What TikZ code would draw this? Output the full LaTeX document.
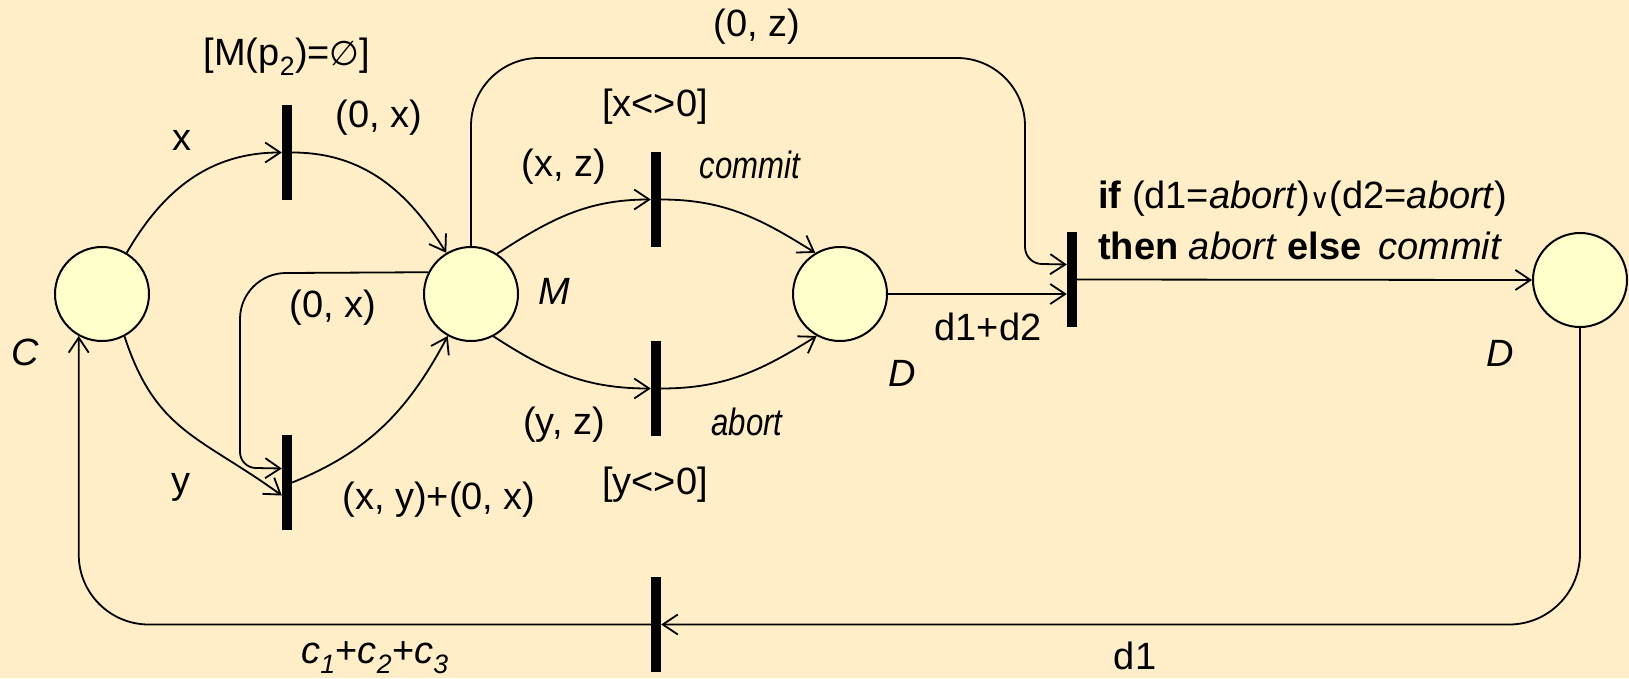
\documentclass[tikz,border=0pt]{standalone}
\usepackage{fontspec}
\setmainfont{Liberation Sans}
\newfontfamily\dejavu{DejaVu Sans}
\usepackage{graphicx}
\usetikzlibrary{arrows.meta}
\definecolor{bgc}{RGB}{255,238,200}
\definecolor{placefill}{RGB}{255,255,204}
\newcommand{\cit}[1]{\scalebox{0.82}[1]{\itshape #1}}
\newcommand{\myor}{{\dejavu\scalebox{0.72}{∨}}}
\newcommand{\myempty}{{\dejavu\scalebox{0.9}{∅}}}
\begin{document}
\begin{tikzpicture}[x=1pt,y=1pt,
  font=\fontsize{38}{44}\selectfont,
  place/.style={circle,draw,line width=2pt,fill=placefill,minimum size=94pt,inner sep=0pt},
  trans/.style={rectangle,fill=black,minimum width=10pt,minimum height=95pt,inner sep=0pt},
  lbl/.style={inner sep=0pt,anchor=center},
  conn/.style={line width=1.8pt},
  arr/.style={line width=1.8pt,-{Straight Barb[length=15pt,width=20pt,line width=1.8pt]}}]
\fill[bgc] (0,0) rectangle (1629,-678);
\useasboundingbox (0,0) rectangle (1629,-678);

% places
\node[place] (C) at (102,-294) {};
\node[place] (M) at (471,-294) {};
\node[place] (D1) at (840,-294) {};
\node[place] (D2) at (1580,-280) {};

% transitions
\node[trans] (t1) at (287,-152.5) {};
\node[trans] (t2) at (287,-482.5) {};
\node[trans] (t3) at (656,-199.5) {};
\node[trans] (t4) at (656,-388.5) {};
\node[trans] (t5) at (656,-624.5) {};
\node[trans] (t6) at (1072,-279.5) {};

% arcs
\draw[arr] (C.59) to[out=60,in=180] (t1.west);
\draw[arr] (t1.east) to[out=0,in=122] (M.121);
\draw[arr] (C.-62) to[out=-72,in=144,looseness=1.15] ([yshift=-13pt]t2.west);
\draw[arr] (t2.east) to[out=22,in=-118] (M.-119);
\draw[arr] (M.153) -- (286,-273) arc[start angle=90,end angle=180,radius=46]
  -- (240,-452) arc[start angle=180,end angle=270,radius=16] -- ([yshift=14pt]t2.west);
\draw[arr] (M.57) to[out=33,in=180] (t3.west);
\draw[arr] (t3.east) to[out=0,in=148] (D1.121);
\draw[arr] (M.-62) to[out=-33,in=180] (t4.west);
\draw[arr] (t4.east) to[out=0,in=-148] (D1.-119);
\draw[arr] (M.north) -- (471,-126) arc[start angle=180,end angle=90,radius=68]
  -- (957,-58) arc[start angle=90,end angle=0,radius=68]
  -- (1025,-247) arc[start angle=180,end angle=270,radius=17] -- ([yshift=15pt]t6.west);
\draw[arr] (D1.east) -- (t6.west |- D1.east);
\draw[arr] (t6.east) -- (D2.west);
\draw[arr,rounded corners=71pt] (D2.south) |- (t5.east);
\draw[arr,rounded corners=70pt] (t5.west) -| (C.241);

% labels
\node[lbl] (lguard1) at (287,-57) {[M(p\textsubscript{2})=\myempty]};
\node[lbl] (lx) at (182,-140) {x};
\node[lbl] (l0x) at (379,-118) {(0, x)};
\node[lbl] (l0xb) at (333,-308) {(0, x)};
\node[lbl] (ly) at (181,-487) {y};
\node[lbl] (lxy) at (439,-500) {(x, y)+(0, x)};
\node[lbl] (lC) at (25,-352) {\itshape C};
\node[lbl] (lM) at (554,-291) {\itshape M};
\node[lbl] (l0z) at (757,-27) {(0, z)};
\node[lbl] (lg2) at (655,-107) {[x<>0]};
\node[lbl] (lxz) at (564,-167) {(x, z)};
\node[lbl] (lcommit) at (750,-165) {\cit{commit}};
\node[lbl] (lyz) at (564,-425) {(y, z)};
\node[lbl] (labort) at (747,-422) {\cit{abort}};
\node[lbl] (lg3) at (655,-485) {[y<>0]};
\node[lbl] (lD1) at (902,-373) {\itshape D};
\node[lbl] (ld12) at (988,-327) {d1+d2};
\node[lbl,anchor=west] (lif) at (1098,-199) {\textbf{if} (d1=\textit{abort})\myor(d2=\textit{abort})};
\node[lbl,anchor=west] (lthen) at (1098,-246) {\textbf{then} \textit{abort} \textbf{else}\, \textit{commit}};
\node[lbl] (lD2) at (1500,-353) {\itshape D};
\node[lbl] (lc) at (375,-658) {\textit{c\textsubscript{1}}+\textit{c\textsubscript{2}}+\textit{c\textsubscript{3}}};
\node[lbl] (ld1) at (1135,-656) {d1};
\end{tikzpicture}
\end{document}
